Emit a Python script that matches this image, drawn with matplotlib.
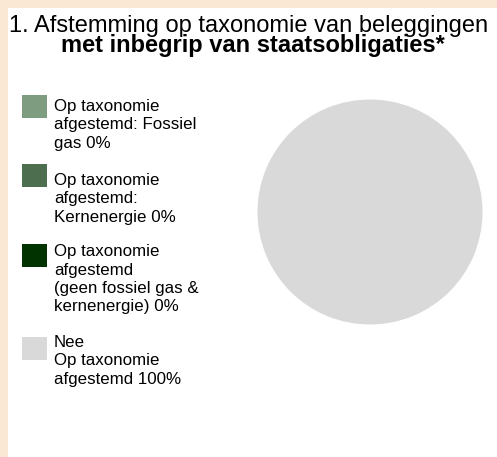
import matplotlib.pyplot as plt
from matplotlib.patches import Rectangle

# data
labels = ["Op taxonomie\nafgestemd: Fossiel\ngas 0%",
          "Op taxonomie\nafgestemd:\nKernenergie 0%",
          "Op taxonomie\nafgestemd\n(geen fossiel gas &\nkernenergie) 0%",
          "Nee\nOp taxonomie\nafgestemd 100%"]
shares = [0, 0, 0, 100]
colors = ["#7E9C7F", "#4D6E4F", "#003300", "#D9D9D9"]

W, H = 497, 457
plt.rcParams["font.family"] = ["Liberation Sans", "DejaVu Sans"]

fig = plt.figure(figsize=(W / 100, H / 100), dpi=100)
fig.patch.set_facecolor("#FAE8D4")
# white panel, beige strip on the top and left
fig.patches.append(Rectangle((8 / W, 0), 1, 1 - 8 / H, transform=fig.transFigure,
                             facecolor="white", edgecolor="none", zorder=-1))

def px(x, y):
    return x / W, 1 - y / H

fig.text(*px(9, 32), "1. Afstemming op taxonomie van beleggingen", fontsize=17,
         ha="left", va="baseline")
fig.text(*px(253, 52), "met inbegrip van staatsobligaties*", fontsize=17,
         fontweight="bold", ha="center", va="baseline")

# pie
r = 113
cx, cy = 370, 212
ax = fig.add_axes([(cx - r) / W, (H - cy - r) / H, 2 * r / W, 2 * r / H])
ax.pie(shares, colors=colors, startangle=90, counterclock=False,
       wedgeprops=dict(edgecolor="white", linewidth=0.7))
ax.set_xlim(-1, 1)
ax.set_ylim(-1, 1)
ax.set_aspect("equal")
ax.axis("off")

# legend drawn by hand so the squares sit at the top of each entry
box_top = [95, 164, 244, 337]
baseline = [110.7, 185, 256, 346.7]
pitch = 18.5
for lab, col, bt, bl in zip(labels, colors, box_top, baseline):
    x0, y0 = px(22, bt + 23)
    fig.patches.append(Rectangle((x0, y0), 25 / W, 23 / H, transform=fig.transFigure,
                                 facecolor=col, edgecolor="none"))
    for i, line in enumerate(lab.split("\n")):
        fig.text(*px(54, bl + i * pitch), line, fontsize=12.2, ha="left", va="baseline")

fig.savefig("out.png", dpi=100, facecolor=fig.get_facecolor())
